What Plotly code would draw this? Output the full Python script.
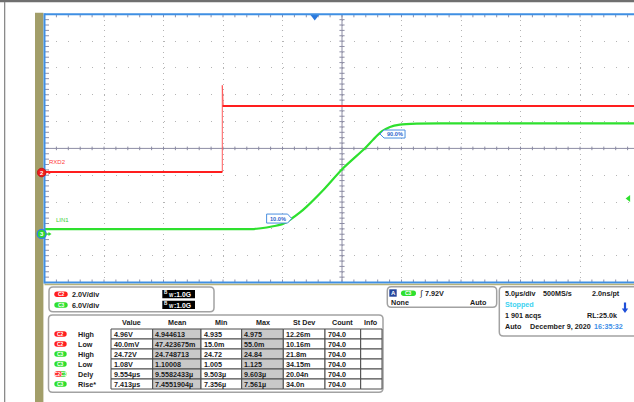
import numpy as np
import plotly.graph_objects as go

# ---------------- waveforms (time in µs, amplitude in V) ----------------
rxd2_t = [0.0, 14.94, 14.94, 14.96, 15.02, 49.54]
rxd2_v = [0.04, 0.04, 6.5, 4.96, 4.96, 4.96]

lin1_t = [0.0, 17.27, 17.83, 18.67, 19.45, 20.07, 20.63, 21.47, 22.03, 23.43,
          25.03, 26.93, 27.63, 28.34, 29.03, 29.87, 31.28, 34.0, 49.54]
lin1_v = [1.08, 1.10, 1.16, 1.45, 1.83, 2.28, 3.18, 4.81, 6.11, 9.84,
          14.54, 19.17, 21.14, 22.93, 23.94, 24.45, 24.68, 24.72, 24.72]

# ---------------- channel / timebase settings ----------------
c2_scale, c2_pos = 2.0, -0.90      # V/div, ground marker position (div)
c3_scale, c3_pos = 6.0, -3.19
time_per_div = 5.0
trig_level = 7.92
bandwidth = "1.0G"

# ---------------- measurement readout ----------------
table_cols = ["Value", "Mean", "Min", "Max", "St Dev", "Count", "Info"]
meas_src = ["C2", "C2", "C3", "C3", "C2C3", "C3"]
meas_name = ["High", "Low", "High", "Low", "Dely", "Rise*"]
meas_value = ["4.96V", "40.0mV", "24.72V", "1.08V", "9.554µs", "7.413µs"]
meas_mean = ["4.944613", "47.423675m", "24.748713", "1.10008", "9.5582433µ", "7.4551904µ"]
meas_min = ["4.935", "15.0m", "24.72", "1.005", "9.503µ", "7.356µ"]
meas_max = ["4.975", "55.0m", "24.84", "1.125", "9.603µ", "7.561µ"]
meas_stdev = ["12.26m", "10.16m", "21.8m", "34.15m", "20.04n", "34.0n"]
meas_count = ["704.0"] * 6
meas_info = [""] * 6

# ---------------- screen geometry ----------------
W, H = 634, 402
LEFT, TOP, BOT = 44.5, 14.3, 282.5
DIVX = 59.5
DIVY = (BOT - TOP) / 10
YC = (TOP + BOT) / 2
XMAX = (W - LEFT) / DIVX * time_per_div
FONT = "Liberation Sans, Arial, sans-serif"

RED = "#ff1e1e"
GREEN = "#2ee02e"
BLUE = "#3f8fe3"


def px(x):
    return x / W


def py(y):
    return 1 - y / H


def t2x(t):
    return LEFT + t / time_per_div * DIVX


def v2y(v, scale, pos):
    return YC - (v / scale + pos) * DIVY


shapes = []
ann = []


def rect(x0, y0, x1, y1, fill=None, line=None, lw=1, layer="above"):
    shapes.append(dict(type="rect", xref="paper", yref="paper",
                       x0=px(x0), x1=px(x1), y0=py(y1), y1=py(y0),
                       fillcolor=fill or "rgba(0,0,0,0)",
                       line=dict(color=line or "rgba(0,0,0,0)", width=lw if line else 0),
                       layer=layer))


def poly(pts, fill=None, line=None, lw=1, closed=True):
    d = "M" + " L".join(f"{px(x):.5f},{py(y):.5f}" for x, y in pts)
    if closed:
        d += " Z"
    shapes.append(dict(type="path", xref="paper", yref="paper", path=d,
                       fillcolor=fill or "rgba(0,0,0,0)",
                       line=dict(color=line or "rgba(0,0,0,0)", width=lw if line else 0)))


def rrect(x0, y0, x1, y1, r, fill=None, line=None, lw=1):
    def P(x, y):
        return f"{px(x):.5f},{py(y):.5f}"
    d = (f"M{P(x0 + r, y0)} L{P(x1 - r, y0)} Q{P(x1, y0)} {P(x1, y0 + r)} "
         f"L{P(x1, y1 - r)} Q{P(x1, y1)} {P(x1 - r, y1)} L{P(x0 + r, y1)} "
         f"Q{P(x0, y1)} {P(x0, y1 - r)} L{P(x0, y0 + r)} Q{P(x0, y0)} {P(x0 + r, y0)} Z")
    shapes.append(dict(type="path", xref="paper", yref="paper", path=d,
                       fillcolor=fill or "rgba(0,0,0,0)",
                       line=dict(color=line or "rgba(0,0,0,0)", width=lw if line else 0)))


def line(x0, y0, x1, y1, color, width=1):
    shapes.append(dict(type="line", xref="paper", yref="paper",
                       x0=px(x0), x1=px(x1), y0=py(y0), y1=py(y1),
                       line=dict(color=color, width=width)))


def label(x, y, s, size=7.2, color="#1a1a1a", xanchor="left", weight="bold"):
    ann.append(dict(xref="paper", yref="paper", x=px(x), y=py(y), text=s,
                    showarrow=False, xanchor=xanchor, yanchor="middle", borderpad=0,
                    font=dict(size=size, color=color, family=FONT, weight=weight)))


def pill(x0, x1, yc, src):
    h = 5.4
    if src == "C2C3":
        rrect(x0 + 5, yc - h / 2, x1, yc + h / 2, h / 2, fill=GREEN)
        rrect(x0, yc - h / 2, x0 + 8, yc + h / 2, h / 2, fill=RED)
        label((x0 + x1) / 2, yc, "C2C3", size=5, color="white", xanchor="center")
    else:
        rrect(x0, yc - h / 2, x1, yc + h / 2, h / 2, fill=RED if src == "C2" else GREEN)
        label((x0 + x1) / 2, yc, src, size=5, color="white", xanchor="center")


# ---------------- frame around the screen ----------------
rect(0, 0, W, 2.2, fill="#6f6f6f")
rect(4, 2, 5.3, H, fill="#8a8a8a")
rect(35, 12.7, 43.4, H, fill="#a29e69")

# ---------------- graticule (centre axes + border ticks) ----------------
minor_t = [k * time_per_div / 5 for k in range(1, 60) if k * time_per_div / 5 < XMAX]
minor_d = [-5 + 0.2 * k for k in range(1, 50)]
tk_h = 1.8 / DIVY
tk_w = 2.6 / DIVX * time_per_div
tc = time_per_div * 5
paths_center = "".join(f"M{t:.3f},{-tk_h:.4f} L{t:.3f},{tk_h:.4f} " for t in minor_t)
paths_center += "".join(f"M{tc - tk_w:.3f},{d:.3f} L{tc + tk_w:.3f},{d:.3f} " for d in minor_d)
edge_h = 3.0 / DIVY
edge_w = 4.5 / DIVX * time_per_div
paths_edge = "".join(f"M{t:.3f},5 L{t:.3f},{5 - edge_h:.4f} " for t in minor_t)
paths_edge += "".join(f"M{t:.3f},-5 L{t:.3f},{-5 + edge_h:.4f} " for t in minor_t)
paths_edge += "".join(f"M0,{d:.3f} L{edge_w:.3f},{d:.3f} " for d in minor_d)

GRAT = "#8c8ca4"
shapes.append(dict(type="line", xref="x", yref="y", x0=0, x1=XMAX, y0=0, y1=0,
                   line=dict(color=GRAT, width=1), layer="between"))
shapes.append(dict(type="line", xref="x", yref="y", x0=tc, x1=tc, y0=-5, y1=5,
                   line=dict(color=GRAT, width=1), layer="between"))
shapes.append(dict(type="path", xref="x", yref="y", path=paths_center,
                   line=dict(color=GRAT, width=1), layer="between"))
shapes.append(dict(type="path", xref="x", yref="y", path=paths_edge,
                   line=dict(color="#9090a8", width=1), layer="between"))

# blue screen border
line(LEFT, TOP, W, TOP, BLUE, 2)
line(LEFT, TOP - 1, LEFT, BOT + 1, BLUE, 2)
line(LEFT, BOT, W, BOT, BLUE, 2)
line(LEFT, BOT + 2, W, BOT + 2, "#b6b37c", 1.5)

# ---------------- traces ----------------
fig = go.Figure()
fig.add_trace(go.Scatter(x=rxd2_t, y=rxd2_v, yaxis="y2", mode="lines",
                         line=dict(color="#ff5a5a", width=1), hoverinfo="skip"))
fig.add_trace(go.Scatter(x=rxd2_t[:2], y=rxd2_v[:2], yaxis="y2", mode="lines",
                         line=dict(color=RED, width=2), hoverinfo="skip"))
fig.add_trace(go.Scatter(x=rxd2_t[3:], y=rxd2_v[3:], yaxis="y2", mode="lines",
                         line=dict(color=RED, width=2), hoverinfo="skip"))
fig.add_trace(go.Scatter(x=lin1_t, y=lin1_v, yaxis="y3", mode="lines",
                         line=dict(color=GREEN, width=2.2, shape="spline", smoothing=0.7),
                         hoverinfo="skip"))

# trigger point in time (C3 crossing the trigger level) and trigger level marker
rise_t = np.array(lin1_t[:-1])
rise_v = np.array(lin1_v[:-1])
t_trig = float(np.interp(trig_level, rise_v, rise_t))
fig.add_trace(go.Scatter(x=[t_trig], y=[5 - 2.2 / DIVY], mode="markers", cliponaxis=False,
                         marker=dict(symbol="triangle-down", size=8, color="#2a78dc"),
                         hoverinfo="skip"))
fig.add_trace(go.Scatter(x=[XMAX - 0.45], y=[trig_level], yaxis="y3", mode="markers",
                         cliponaxis=False,
                         marker=dict(symbol="triangle-left", size=6, color=GREEN),
                         hoverinfo="skip"))

# ---------------- 10% / 90% rise callouts ----------------
c3_low, c3_high = 1.08, 24.72
lvl10 = c3_low + 0.1 * (c3_high - c3_low)
lvl90 = c3_low + 0.9 * (c3_high - c3_low)
t10 = float(np.interp(lvl10, rise_v, rise_t))
t90 = float(np.interp(lvl90, rise_v, rise_t))
x10, y10 = t2x(t10), v2y(lvl10, c3_scale, c3_pos)
x90, y90 = t2x(t90), v2y(lvl90, c3_scale, c3_pos)
CALL = "#4a8fe0"
poly([(x10 - 25, y10 - 4.5), (x10 - 4, y10 - 4.5), (x10, y10), (x10 - 4, y10 + 4.5),
      (x10 - 25, y10 + 4.5)], fill="white", line=CALL, lw=1)
label(x10 - 14, y10, "10.0%", size=5.6, color="#2a66cc", xanchor="center")
poly([(x90 + 1, y90), (x90 + 5, y90 - 4), (x90 + 26, y90 - 4), (x90 + 26, y90 + 4),
      (x90 + 5, y90 + 4)], fill="white", line=CALL, lw=1)
label(x90 + 15.5, y90, "90.0%", size=5.6, color="#2a66cc", xanchor="center")

# ---------------- channel ground markers and names ----------------
g2 = v2y(0, c2_scale, c2_pos)
g3 = v2y(0, c3_scale, c3_pos)
shapes.append(dict(type="circle", xref="paper", yref="paper", x0=px(37.4), x1=px(46),
                   y0=py(g2 + 4.3), y1=py(g2 - 4.3), fillcolor="#ee1c1c",
                   line=dict(color="#c01010", width=0.8)))
shapes.append(dict(type="circle", xref="paper", yref="paper", x0=px(37.2), x1=px(46.2),
                   y0=py(g3 + 4.5), y1=py(g3 - 4.5), fillcolor="#30d830",
                   line=dict(color="#2f7fe6", width=1.3)))
label(41.7, g2, "2", size=6, color="white", xanchor="center")
label(41.7, g3, "3", size=6, color="white", xanchor="center")
for gy, col in ((g2, RED), (g3, GREEN)):
    line(46, gy, 49, gy, col, 1)
    poly([(48.5, gy - 2), (51.5, gy), (48.5, gy + 2)], fill=col)
label(47.5, g2 - 10.3, "RXD2", size=6, color="#ff3a3a", weight="normal")
label(55, g3 - 14, "LIN1", size=6, color="#38d038", weight="normal")

# ---------------- vertical settings panel ----------------
PANEL = "#a2a2a2"
rrect(49, 287, 214, 311.7, 4, fill="white", line=PANEL, lw=1.5)
for yc, src, vdiv in ((294.3, "C2", f"{c2_scale:.1f}V/div"), (305, "C3", f"{c3_scale:.1f}V/div")):
    pill(54.3, 67.7, yc, src)
    label(71, yc, vdiv)
    rect(162.3, yc - 4.2, 195, yc + 4, fill="black")
    label(163.2, yc - 1.5, "B", size=4.6, color="white")
    label(167.6, yc + 1.3, "W", size=4.6, color="white")
    label(173.2, yc, ":" + bandwidth, size=6.8, color="white")

# ---------------- measurement table ----------------
rrect(48.5, 315, 383, 392.3, 4, fill="white", line=PANEL, lw=1.5)
col_edges = [111, 152.7, 201, 241.7, 283.3, 325, 360.7, 382]
row_top, row_h = 329, 10
columns = [meas_value, meas_mean, meas_min, meas_max, meas_stdev, meas_count, meas_info]
shaded = {"Mean", "Max"}
for c, name in enumerate(table_cols):
    xa, xb = col_edges[c], col_edges[c + 1]
    label((xa + xb) / 2, 322.7, name, xanchor="center")
    for r in range(len(meas_name)):
        ya = row_top + r * row_h
        rect(xa, ya, xb, ya + row_h, fill="#c9c9c9" if name in shaded else "white",
             line="#4a4a4a", lw=1)
        if columns[c][r]:
            label(xa + 1.6, ya + row_h / 2 + 0.3, columns[c][r])
for r, (src, nm) in enumerate(zip(meas_src, meas_name)):
    yc = row_top + r * row_h + row_h / 2
    pill(54.3, 66.7, yc, src)
    label(77.3, yc, nm)

# ---------------- trigger panel ----------------
rrect(387.3, 286.7, 496.7, 307.3, 4, fill="white", line=PANEL, lw=1.5)
rect(389.3, 289.3, 396.7, 296.7, fill="#24469c")
label(393, 293, "A", size=6, color="white", xanchor="center")
pill(401, 416, 293.3, "C3")
label(418, 293.3, "∫", size=8, color="#1a1a1a", weight="normal")
label(424, 293.3, f"{trig_level:.2f}V")
label(390, 302.7, "None")
label(469.3, 302.7, "Auto")

# ---------------- acquisition panel ----------------
rrect(499.3, 286.7, 660, 336, 4, fill="white", line=PANEL, lw=1.5)
label(504, 293.3, f"{time_per_div:.1f}µs/div")
label(542.3, 293.3, "500MS/s")
label(591, 293.3, "2.0ns/pt")
label(504, 304.3, "Stopped", color="#3cd2f0")
label(504, 315.7, "1 901 acqs")
label(586, 315.7, "RL:25.0k")
label(504, 326.7, "Auto")
label(529, 326.7, "December 9, 2020")
label(593.3, 326.7, "16:35:32", color="#3f8fe8")
line(625, 302.5, 625, 309.5, "#1e4fd8", 2.2)
poly([(621.8, 308.5), (628.2, 308.5), (625, 313)], fill="#1e4fd8")

# ---------------- layout ----------------
fig.update_layout(
    width=W, height=H,
    margin=dict(l=0, r=0, t=0, b=0),
    paper_bgcolor="white", plot_bgcolor="white",
    showlegend=False,
    xaxis=dict(domain=[px(LEFT), 1], range=[0, XMAX], tick0=0, dtick=time_per_div,
               showgrid=True, gridcolor="#b4b4b4", gridwidth=1,
               griddash=f"1px,{DIVY / 5 - 1:.2f}px",
               zeroline=False, showticklabels=False, ticks="", showline=False,
               fixedrange=True),
    yaxis=dict(domain=[py(BOT), py(TOP)], range=[-5, 5], tick0=0, dtick=1,
               showgrid=True, gridcolor="#b4b4b4", gridwidth=1,
               griddash=f"1px,{DIVX / 5 - 1:.2f}px",
               zeroline=False, showticklabels=False, ticks="", showline=False,
               fixedrange=True),
    yaxis2=dict(overlaying="y", range=[(-5 - c2_pos) * c2_scale, (5 - c2_pos) * c2_scale],
                visible=False, fixedrange=True),
    yaxis3=dict(overlaying="y", range=[(-5 - c3_pos) * c3_scale, (5 - c3_pos) * c3_scale],
                visible=False, fixedrange=True),
    shapes=shapes,
    annotations=ann,
)

fig.write_html("out.html", config={"displayModeBar": False})
